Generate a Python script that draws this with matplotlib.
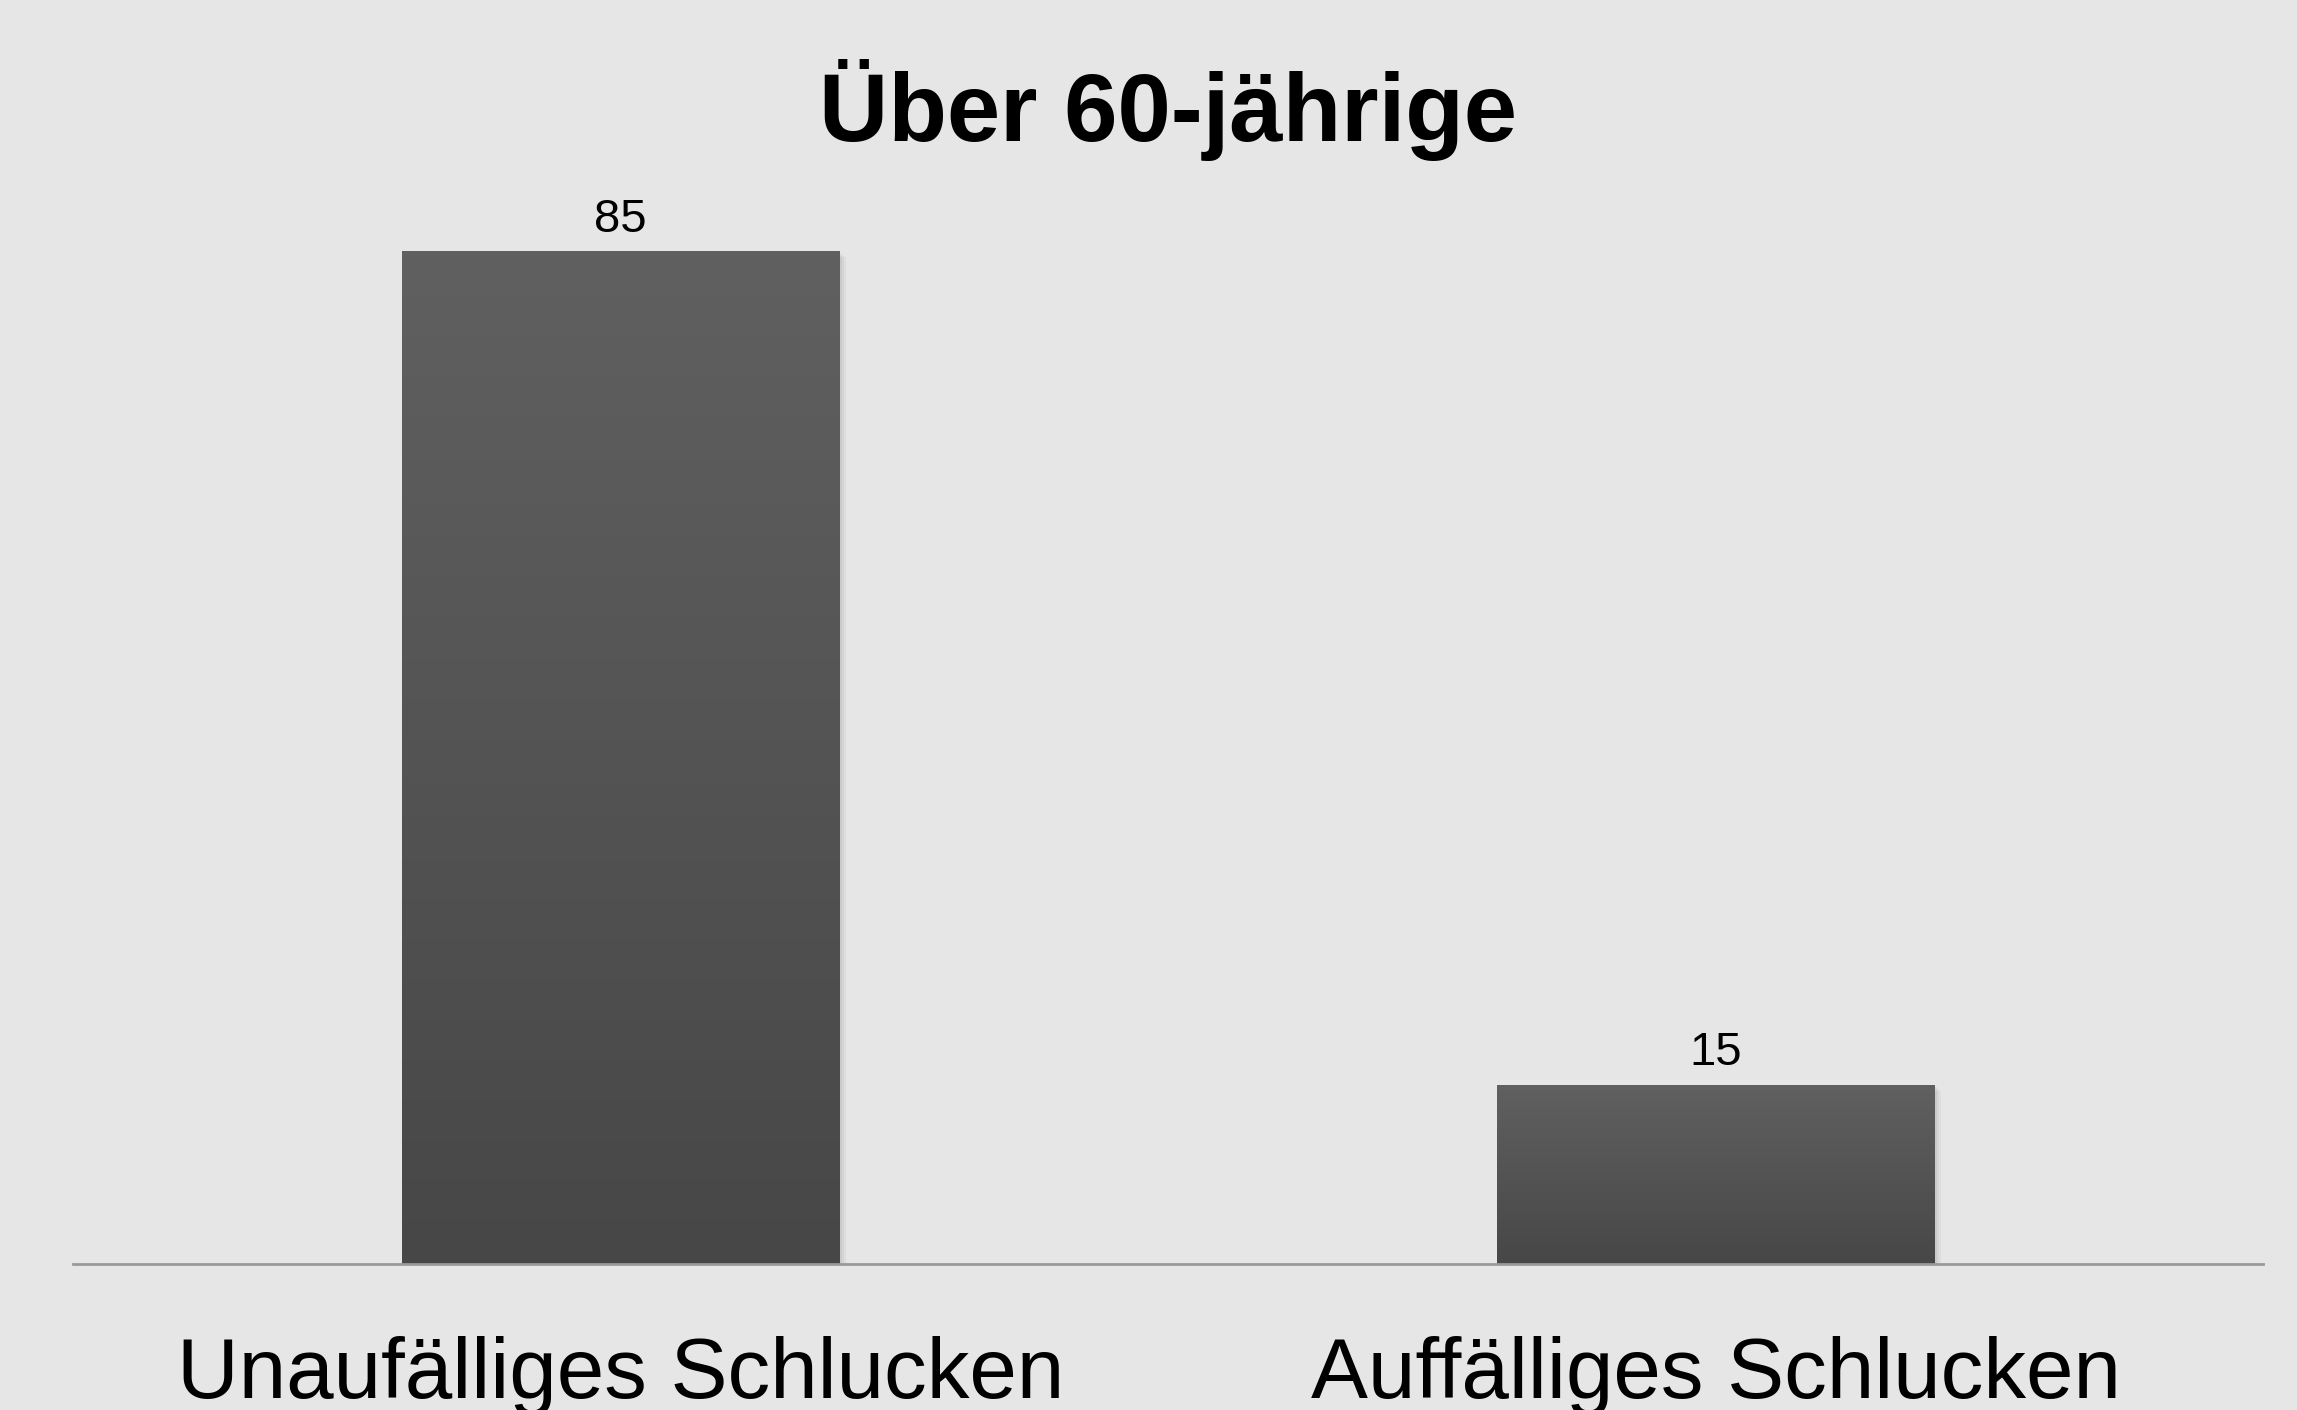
import numpy as np
import matplotlib
matplotlib.use("Agg")
from matplotlib import pyplot as plt
from matplotlib.colors import LinearSegmentedColormap

categories = ["Unaufälliges Schlucken", "Auffälliges Schlucken"]
values = [85, 15]
title = "Über 60-jährige"

plt.rcParams['font.family'] = ['Liberation Sans', 'DejaVu Sans']

bg = "#e6e6e6"
fig = plt.figure(figsize=(22.97, 14.10), dpi=100, facecolor=bg)
ax = fig.add_axes([0.0318, 0.1035, 0.9534, 0.8445])
ax.set_facecolor(bg)

x = np.arange(len(categories))
bars = ax.bar(x, values, width=0.4, color="#555555", zorder=2)

# vertical gradient inside each bar, light on top
grad_cmap = LinearSegmentedColormap.from_list("g", ["#474747", "#606060"])
grad = np.linspace(0, 1, 256).reshape(-1, 1)
for b in bars:
    bx, bw, bh = b.get_x(), b.get_width(), b.get_height()
    # soft shadow
    for i, a in enumerate([0.05, 0.04, 0.03]):
        ax.bar(bx + bw / 2 + 0.002 * (i + 1), bh, width=bw, bottom=-0.15 * (i + 1),
               color="black", alpha=a, zorder=1, linewidth=0)
    ax.imshow(grad, extent=[bx, bx + bw, 0, bh], origin="lower", cmap=grad_cmap,
              aspect="auto", zorder=3, interpolation="bilinear")
    ax.text(bx + bw / 2, bh + 1.7, str(int(bh)), ha="center", va="baseline",
            fontsize=34, color="black")

ax.set_xlim(-0.5, 1.5)
ax.set_ylim(0, 100)

for s in ["top", "right", "left"]:
    ax.spines[s].set_visible(False)
ax.spines["bottom"].set_color("#9a9a9a")
ax.spines["bottom"].set_linewidth(2)
ax.spines["bottom"].set_zorder(4)
ax.set_yticks([])
ax.set_xticks(x)
ax.set_xticklabels(categories, fontsize=61.5)
ax.tick_params(axis="x", length=0, pad=52)

fig.text(0.5085, 0.90, title, ha="center", va="baseline", fontsize=69,
         fontweight="bold")

plt.savefig("out.png", dpi=100, facecolor=bg)
